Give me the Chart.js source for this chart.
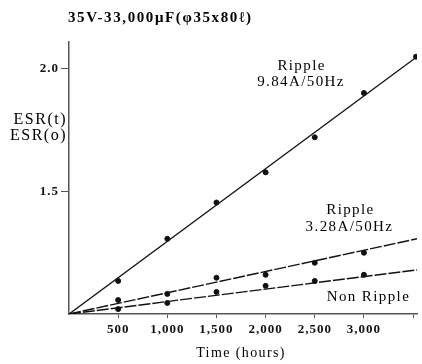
<!DOCTYPE html>
<html>
<head>
<meta charset="utf-8">
<script src="https://cdn.jsdelivr.net/npm/chart.js@4.4.1/dist/chart.umd.min.js"></script>
<style>
html,body{margin:0;padding:0;background:#fff;}
#wrap{width:422px;height:364px;position:relative;}
</style>
</head>
<body>
<div id="wrap"><canvas id="c"></canvas></div>
<script>
// ---- data ----
const chartTitle = "35V-33,000\u03BCF(\u03C635x80\u2113)";
const xTitle = "Time (hours)";
const yTitleLines = ["ESR(t)", "ESR(o)"];

const xTickValues = [500, 1000, 1500, 2000, 2500, 3000, 3500];
const xTickLabels = ["500", "1,000", "1,500", "2,000", "2,500", "3,000", ""];
const yTickValues = [1.5, 2.0];
const yTickLabels = ["1.5", "2.0"];

// measured points
const hoursHigh = [500, 1000, 1500, 2000, 2500, 3000, 3530];
const rippleHigh = [1.135, 1.307, 1.455, 1.578, 1.721, 1.902, 2.05];
const hoursLow = [500, 1000, 1500, 2000, 2500, 3000];
const rippleLow = [1.057, 1.082, 1.148, 1.16, 1.209, 1.25];
const hoursNon = [500, 1000, 1500, 2000, 2500, 3000];
const nonRipple = [1.02, 1.045, 1.09, 1.115, 1.135, 1.16];

// fitted trend lines (start, end)
const fitHours = [0, 3540];
const fitHigh = [1.0, 2.05];
const fitLow = [1.0, 1.307];
const fitNon = [1.0, 1.18];

// series annotations: [text, hours, value]
const annotations = [
  ["Ripple", 2366, 2.01],
  ["9.84A/50Hz", 2360, 1.947],
  ["Ripple", 2863, 1.426],
  ["3.28A/50Hz", 2853, 1.356],
  ["Non Ripple", 3046, 1.07]
];
const xTitleAt = 1750;

const pts = (xs, ys) => xs.map((x, i) => ({x: x, y: ys[i]}));
const ink = '#111';

const textPlugin = {
  id: 'texts',
  beforeDraw(chart) { chart.ctx.letterSpacing = '1px'; },
  afterDraw(chart) {
    const ctx = chart.ctx;
    const xs = chart.scales.x, ys = chart.scales.y;
    ctx.save();
    ctx.fillStyle = '#000';
    ctx.textBaseline = 'middle';
    // title
    ctx.letterSpacing = '1.6px';
    ctx.textAlign = 'left';
    ctx.font = 'bold 15px "Liberation Serif"';
    ctx.fillText(chartTitle, 68, 18);
    // y title
    ctx.letterSpacing = '1.5px';
    ctx.textAlign = 'right';
    ctx.font = '16px "Liberation Serif"';
    ctx.fillText(yTitleLines[0], 67, 120);
    ctx.fillText(yTitleLines[1], 67, 136);
    // annotations
    ctx.textAlign = 'center';
    ctx.letterSpacing = '1.4px';
    ctx.font = '15px "Liberation Serif"';
    annotations.forEach(a => {
      ctx.fillText(a[0], xs.getPixelForValue(a[1]), ys.getPixelForValue(a[2]));
    });
    // x title
    ctx.letterSpacing = '1.4px';
    ctx.font = '14px "Liberation Serif"';
    ctx.fillText(xTitle, xs.getPixelForValue(xTitleAt), 353);
    ctx.restore();
  }
};

new Chart(document.getElementById('c'), {
  type: 'scatter',
  data: {
    datasets: [
      {data: pts(fitHours, fitHigh), showLine: true, pointRadius: 0, borderColor: ink, borderWidth: 1.4},
      {data: pts(fitHours, fitLow), showLine: true, pointRadius: 0, borderColor: ink, borderWidth: 1.4, borderDash: [12, 2]},
      {data: pts(fitHours, fitNon), showLine: true, pointRadius: 0, borderColor: ink, borderWidth: 1.4, borderDash: [12, 2]},
      {data: pts(hoursHigh, rippleHigh), showLine: false, pointRadius: 2.5, backgroundColor: ink, borderColor: ink},
      {data: pts(hoursLow, rippleLow), showLine: false, pointRadius: 2.5, backgroundColor: ink, borderColor: ink},
      {data: pts(hoursNon, nonRipple), showLine: false, pointRadius: 2.5, backgroundColor: ink, borderColor: ink}
    ]
  },
  options: {
    responsive: true,
    maintainAspectRatio: false,
    animation: false,
    layout: {padding: {top: 42, right: 2, left: 0, bottom: 0}},
    plugins: {legend: {display: false}, tooltip: {enabled: false}, title: {display: false}},
    scales: {
      x: {
        type: 'linear', min: 0, max: 3540,
        afterBuildTicks: s => { s.ticks = xTickValues.map(v => ({value: v})); },
        afterFit: s => { s.height = 50; },
        ticks: {
          autoSkip: false, maxRotation: 0, padding: 4, color: '#111',
          font: {family: 'Liberation Serif', size: 13, weight: 'bold'},
          callback: (v) => { const i = xTickValues.indexOf(v); return i >= 0 ? xTickLabels[i] : ''; }
        },
        grid: {drawOnChartArea: false, drawTicks: true, tickLength: 4, color: '#555', lineWidth: 1},
        border: {display: true, color: '#555', width: 1.5}
      },
      y: {
        type: 'linear', min: 1.0, max: 2.11,
        afterBuildTicks: s => { s.ticks = yTickValues.map(v => ({value: v})); },
        afterFit: s => { s.width = 69; },
        ticks: {
          autoSkip: false, padding: 2, color: '#111',
          font: {family: 'Liberation Serif', size: 13, weight: 'bold'},
          callback: (v) => { const i = yTickValues.indexOf(v); return i >= 0 ? yTickLabels[i] : ''; }
        },
        grid: {drawOnChartArea: false, drawTicks: true, tickLength: 8, color: '#555', lineWidth: 1},
        border: {display: true, color: '#555', width: 1.5}
      }
    }
  },
  plugins: [textPlugin]
});
</script>
</body>
</html>
